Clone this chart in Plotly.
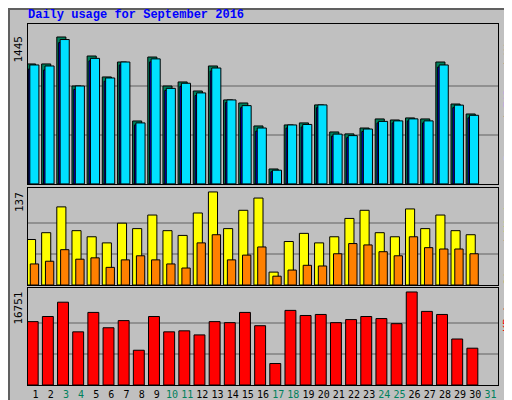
import plotly.graph_objects as go

days = list(range(1, 31))
tick_days = list(range(1, 32))
weekend = [3, 4, 10, 11, 17, 18, 24, 25, 31]

hits = [1180,1180,1445,963,1258,1052,1199,619,1248,963,1003,914,1160,826,796,570,147,580,600,777,511,492,550,639,629,649,639,1199,786,688]
files = [1130,1120,1390,930,1210,1010,1170,580,1200,920,960,870,1110,800,750,520,120,550,560,750,470,455,515,600,600,620,600,1150,750,650]
pages = [1170,1160,1420,963,1235,1042,1199,600,1230,940,990,895,1140,826,770,550,135,580,585,777,490,475,540,615,620,640,620,1170,775,675]
visits = [67,77,115,80,71,62,91,83,103,80,73,106,137,83,110,128,19,64,76,62,71,98,110,77,71,112,83,103,80,74]
sites = [31,35,52,38,40,26,37,43,37,31,25,62,74,37,44,56,13,22,29,28,46,61,59,49,43,71,55,53,53,46]
kbytes = [11413,12333,14910,9572,13070,10308,11597,6259,12333,9572,9756,9020,11413,11229,13070,10677,3866,13438,12517,12702,11229,11781,12333,11965,11045,16751,13254,12702,8284,6627]

BG = "#C0C0C0"
fig = go.Figure()

def bar(y, color, off, w, ax):
    fig.add_trace(go.Bar(x=days, y=y, offset=off, width=w, marker=dict(color=color, line=dict(color="black", width=1)),
                         xaxis="x" + ax, yaxis="y" + ax, showlegend=False, hoverinfo="skip"))

bar(hits, "#00805C", -0.6, 0.6, "")
bar(files, "#0000FF", -0.48, 0.6, "")
bar(pages, "#00E0FF", -0.38, 0.6, "")
bar(visits, "#FFFF00", -0.6, 0.6, "2")
bar(sites, "#FF8000", -0.35, 0.55, "2")
bar(kbytes, "#FF0000", -0.55, 0.72, "3")

ticktext = [("<span style='color:#00805C'>%d</span>" % d) if d in weekend else str(d) for d in tick_days]
axcommon = dict(range=[0.5, 31.5], showline=True, mirror=True, linecolor="black", linewidth=1,
                showgrid=False, zeroline=False, ticks="", fixedrange=True)
mx = [max(hits), max(visits), max(kbytes)]
ranges = [[0, mx[0] * 160 / 147], [0, mx[1] * 96 / 92], [0, mx[2] * 95 / 91]]
domains = [[0.557, 1.0], [0.277, 0.546], [0.0, 0.269]]
layout = dict(width=512, height=400, paper_bgcolor=BG, plot_bgcolor=BG, barmode="overlay",
              margin=dict(l=20, r=22, t=16, b=23, autoexpand=False),
              font=dict(family="DejaVu Sans Mono", size=11, color="black"))
shapes = []
annotations = []
for i, s in enumerate(["", "2", "3"]):
    xa = "xaxis" + s
    ya = "yaxis" + s
    xd = dict(axcommon, anchor="y" + s)
    if s == "3":
        xd.update(tickvals=tick_days, ticktext=ticktext, showticklabels=True, tickangle=0,
                  tickfont=dict(size=10), automargin=False)
    else:
        xd.update(showticklabels=False, matches="x3")
    layout[xa] = xd
    layout[ya] = dict(range=ranges[i], domain=domains[i], anchor="x" + s, showline=True, mirror=True,
                      linecolor="black", showgrid=False, zeroline=False, showticklabels=False, ticks="", fixedrange=True)
    for f in (1 / 3, 2 / 3):
        shapes.append(dict(type="line", xref="x" + s + " domain", yref="y" + s, x0=0, x1=1, y0=mx[i] * f, y1=mx[i] * f,
                           line=dict(color="#808080", width=1.5), layer="below"))
    annotations.append(dict(text=str(mx[i]), textangle=-90, xref="paper", yref="y" + s, x=-9 / 470, xanchor="center",
                            y=mx[i] * 1.02, yanchor="top", showarrow=False, font=dict(size=11)))

right = [
    "<span style='color:#00C0FF'>Pages</span> / <span style='color:#0000FF'>Files</span> / <span style='color:#00805C'>Hits</span>",
    "<span style='color:#FF8000'>Sites</span> / <span style='color:#FFFF00'>Visits</span>",
    "<span style='color:#FF0000'>KBytes</span>",
]
for i, t in enumerate(right):
    annotations.append(dict(text=t, textangle=-90, xref="paper", yref="paper", x=1 + 10 / 470, xanchor="center",
                            y=domains[i][1] - 0.005, yanchor="top", showarrow=False, font=dict(size=11)))
annotations.append(dict(text="<b>Daily usage for September 2016</b>", xref="paper", yref="paper", x=-0.005, xanchor="left",
                        y=1.0, yanchor="bottom", showarrow=False, font=dict(family="Liberation Mono", size=12, color="#0000FF")))
shapes.append(dict(type="rect", xref="paper", yref="paper", x0=-19 / 470, x1=1 + 20 / 470, y0=-21 / 361, y1=1 + 15 / 361,
                   line=dict(color="#606060", width=2), layer="below"))
layout["shapes"] = shapes
layout["annotations"] = annotations
fig.update_layout(**layout)
fig.write_html("out.html")
